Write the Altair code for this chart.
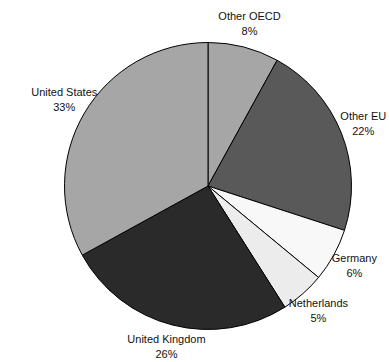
import altair as alt
import pandas as pd

categories = ["Other OECD", "Other EU", "Germany", "Netherlands", "United Kingdom", "United States"]
shares = [8, 22, 6, 5, 26, 33]
colors = ["#a6a6a6", "#595959", "#f8f8f8", "#ececec", "#2a2a2a", "#a6a6a6"]

df = pd.DataFrame({
    "category": categories,
    "share": shares,
    "order": list(range(len(categories))),
    "pct": [f"{s}%" for s in shares],
})

color_scale = alt.Scale(domain=categories, range=colors)

base = alt.Chart(df).encode(
    theta=alt.Theta("share:Q", stack=True),
    order=alt.Order("order:Q"),
)

arcs = base.mark_arc(x=208, y=186, outerRadius=143.5, stroke="black", strokeWidth=1).encode(
    color=alt.Color("category:N", scale=color_scale, legend=None)
)

text_style = dict(x=208, y=186, radius=167, font="Liberation Sans", fontSize=11,
                  color="#111111", align="center", baseline="middle")

names = base.mark_text(dy=-7.5, **text_style).encode(text="category:N")
pcts = base.mark_text(dy=7.5, **text_style).encode(text="pct:N")

chart = (arcs + names + pcts).properties(
    width=389, height=362, autosize=alt.AutoSizeParams(type="none"), padding=0
).configure_view(stroke=None)

chart.save("out.html", embed_options={"renderer": "svg", "actions": False})
